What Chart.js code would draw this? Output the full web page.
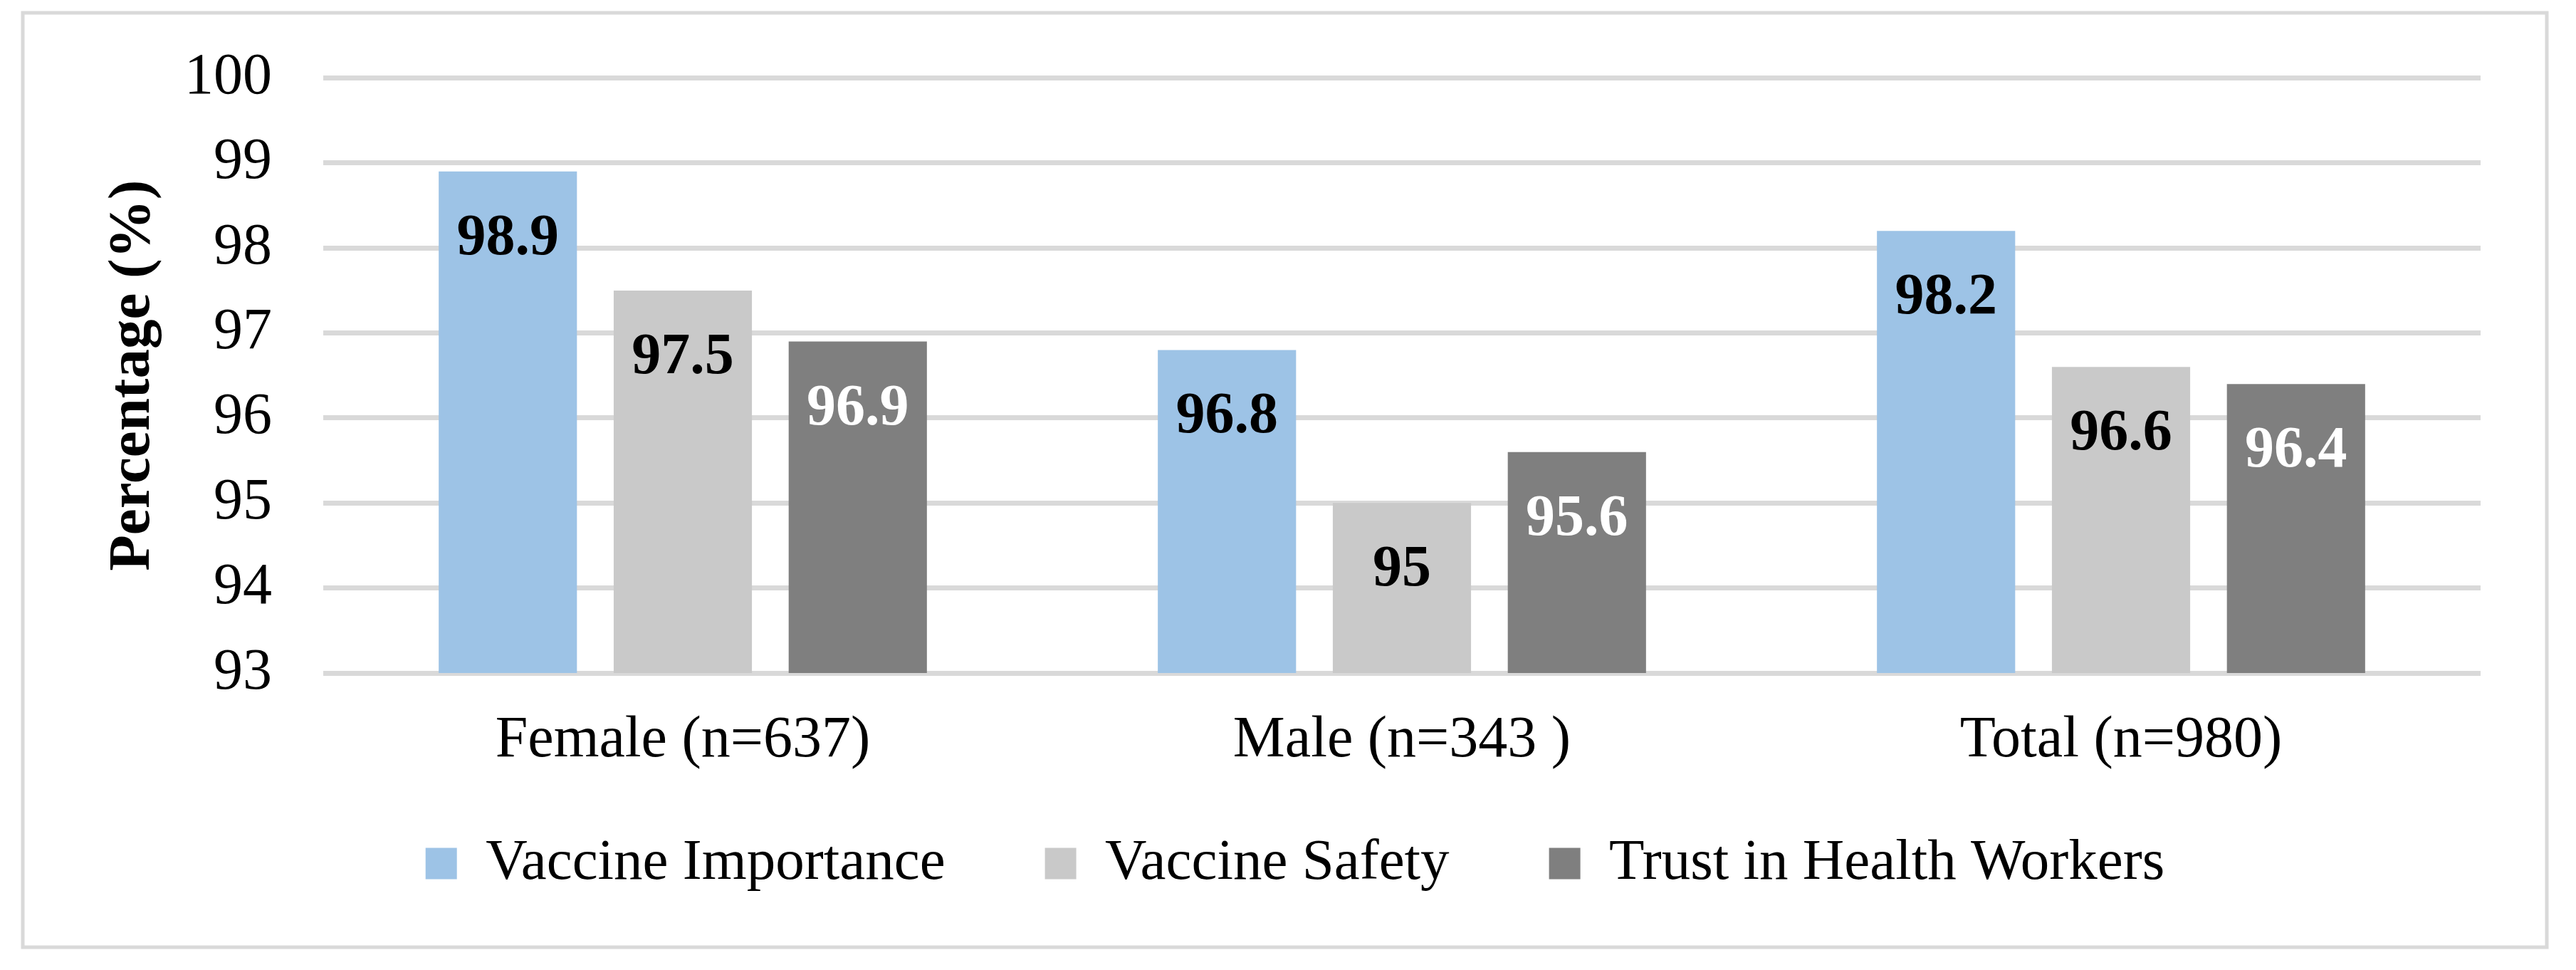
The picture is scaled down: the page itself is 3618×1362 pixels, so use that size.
<!DOCTYPE html>
<html>
<head>
<meta charset="utf-8">
<script src="https://cdn.jsdelivr.net/npm/chart.js@4"></script>
<style>
html,body{margin:0;padding:0;background:#fff;}
canvas{display:block;}
</style>
</head>
<body>
<canvas id="c" width="3618" height="1362"></canvas>
<script>
const categories = ["Female (n=637)", "Male (n=343 )", "Total (n=980)"];
const vaccineImportance = [98.9, 96.8, 98.2];
const vaccineSafety = [97.5, 95.0, 96.6];
const trustHealthWorkers = [96.9, 95.6, 96.4];
const seriesNames = ["Vaccine Importance", "Vaccine Safety", "Trust in Health Workers"];
const yMin = 93, yMax = 100, yStep = 1;

const FONT = "'Liberation Serif', 'Times New Roman', serif";

const borderPlugin = {
  id: 'outerBorder',
  beforeDraw(chart) {
    const ctx = chart.ctx;
    ctx.save();
    ctx.fillStyle = '#ffffff';
    ctx.fillRect(0, 0, chart.width, chart.height);
    ctx.strokeStyle = '#D9D9D9';
    ctx.lineWidth = 5;
    ctx.strokeRect(32, 18, 3545, 1312);
    ctx.restore();
  }
};

const labelColors = ['#000000', '#000000', '#ffffff'];
const valueLabelPlugin = {
  id: 'valueLabels',
  afterDatasetsDraw(chart) {
    const ctx = chart.ctx;
    ctx.save();
    ctx.font = "bold 82px " + FONT;
    ctx.textAlign = 'center';
    ctx.textBaseline = 'alphabetic';
    chart.data.datasets.forEach((ds, di) => {
      const meta = chart.getDatasetMeta(di);
      meta.data.forEach((bar, i) => {
        ctx.fillStyle = labelColors[di];
        ctx.fillText(String(ds.data[i]), bar.x, bar.y + 116);
      });
    });
    ctx.restore();
  }
};

new Chart(document.getElementById('c'), {
  type: 'bar',
  data: {
    labels: categories,
    datasets: [
      {label: seriesNames[0], data: vaccineImportance, backgroundColor: '#9DC3E6'},
      {label: seriesNames[1], data: vaccineSafety, backgroundColor: '#C9C9C9'},
      {label: seriesNames[2], data: trustHealthWorkers, backgroundColor: '#7F7F7F'}
    ]
  },
  options: {
    responsive: false,
    animation: false,
    devicePixelRatio: 1,
    categoryPercentage: 0.73,
    barPercentage: 0.79,
    layout: {padding: {left: 154, right: 134, top: 109.5, bottom: 99}},
    plugins: {
      legend: {
        position: 'bottom',
        labels: {
          font: {family: FONT, size: 81},
          color: '#000',
          boxWidth: 44,
          boxHeight: 44,
          padding: 140
        }
      },
      tooltip: {enabled: false}
    },
    scales: {
      x: {
        grid: {display: false},
        border: {display: false},
        ticks: {font: {family: FONT, size: 82}, color: '#000', mirror: true, padding: -145},
        afterFit(scale) { scale.height = 87; }
      },
      y: {
        min: yMin, max: yMax,
        grid: {color: '#D9D9D9', lineWidth: 7, drawTicks: false},
        border: {display: false},
        ticks: {stepSize: yStep, font: {family: FONT, size: 82, lineHeight: 0.6}, color: '#000', padding: 72},
        title: {display: true, text: 'Percentage (%)', font: {family: FONT, size: 83, weight: 'bold'}, color: '#000', padding: {top: -15.8, bottom: 0}},
        afterFit(scale) { scale.width = 300; }
      }
    }
  },
  plugins: [borderPlugin, valueLabelPlugin]
});
</script>
</body>
</html>
